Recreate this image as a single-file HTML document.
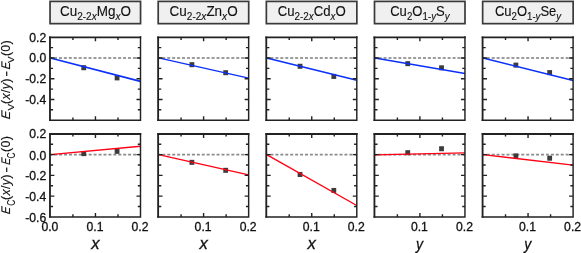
<!DOCTYPE html><html><head><meta charset="utf-8"><style>html,body{margin:0;padding:0;background:#fff}svg{display:block;will-change:transform;-webkit-font-smoothing:antialiased}</style></head><body><svg width="581" height="253" viewBox="0 0 581 253" font-family="Liberation Sans, sans-serif"><style>text{stroke:#111;stroke-width:0.3px}.yl text{stroke-width:0.15px}</style>
<rect width="581" height="253" fill="#fff"/>
<rect x="50.05" y="1.4" width="90.50" height="22.25" fill="#f0f0f0" stroke="#3a3a3a" stroke-width="1.7"/>
<text transform="translate(95.45,16.3) scale(0.95,1)" text-anchor="middle" font-size="14.2" fill="#111" style="stroke-width:0.12px"><tspan dy="0" font-size="14.2">Cu</tspan><tspan dy="3.6" font-size="10.6">2-2</tspan><tspan dy="0" font-size="10.6" font-style="italic">x</tspan><tspan dy="-3.6" font-size="14.2">Mg</tspan><tspan dy="3.6" font-size="10.6" font-style="italic">x</tspan><tspan dy="-3.6" font-size="14.2">O</tspan></text>
<line x1="50.40" y1="57.95" x2="140.50" y2="57.95" stroke="#7c7c7c" stroke-width="1.55" stroke-dasharray="3.0,1.93" stroke-dashoffset="1.2999999999999998"/>
<rect x="81.34" y="65.21" width="4.8" height="5.0" fill="#3c3c3c"/>
<rect x="114.67" y="75.38" width="4.8" height="5.0" fill="#3c3c3c"/>
<line x1="50.40" y1="57.95" x2="140.50" y2="81.40" stroke="#0b30f8" stroke-width="1.7"/>
<path d="M140.50 36.30V120.92M49.00 120.20H141.22" fill="none" stroke="#222" stroke-width="1.45"/>
<path d="M49.98 36.50V120.92" fill="none" stroke="#222" stroke-width="1.85"/>
<path d="M49.08 37.35H141.22" fill="none" stroke="#222" stroke-width="1.7"/>
<path d="M72.92 120.20v-2.7M72.92 37.20v2.7M95.45 120.20v-4.0M95.45 37.20v4.0M117.97 120.20v-2.7M117.97 37.20v2.7M50.40 47.58h2.7M140.50 47.58h-2.7M50.40 57.95h4.0M140.50 57.95h-4.0M50.40 68.33h2.7M140.50 68.33h-2.7M50.40 78.70h4.0M140.50 78.70h-4.0M50.40 89.08h2.7M140.50 89.08h-2.7M50.40 99.45h4.0M140.50 99.45h-4.0M50.40 109.82h2.7M140.50 109.82h-2.7" stroke="#222" stroke-width="1.4" fill="none"/>
<line x1="50.40" y1="154.65" x2="140.50" y2="154.65" stroke="#8c8c8c" stroke-width="1.8" stroke-dasharray="3.0,1.93" stroke-dashoffset="1.15"/>
<rect x="81.34" y="151.12" width="4.8" height="5.0" fill="#3c3c3c"/>
<rect x="114.67" y="148.84" width="4.8" height="5.0" fill="#3c3c3c"/>
<line x1="50.40" y1="154.65" x2="140.50" y2="146.25" stroke="#ff0014" stroke-width="1.35"/>
<path d="M140.50 133.00V217.62M49.00 216.90H141.22" fill="none" stroke="#222" stroke-width="1.45"/>
<path d="M49.98 133.20V217.62" fill="none" stroke="#222" stroke-width="1.85"/>
<path d="M49.08 134.05H141.22" fill="none" stroke="#222" stroke-width="1.95"/>
<path d="M72.92 216.90v-2.7M72.92 133.90v2.7M95.45 216.90v-4.0M95.45 133.90v4.0M117.97 216.90v-2.7M117.97 133.90v2.7M50.40 144.28h2.7M140.50 144.28h-2.7M50.40 154.65h4.0M140.50 154.65h-4.0M50.40 165.03h2.7M140.50 165.03h-2.7M50.40 175.40h4.0M140.50 175.40h-4.0M50.40 185.78h2.7M140.50 185.78h-2.7M50.40 196.15h4.0M140.50 196.15h-4.0M50.40 206.52h2.7M140.50 206.52h-2.7" stroke="#222" stroke-width="1.4" fill="none"/>
<text x="49.90" y="231.1" text-anchor="middle" font-size="12.2" fill="#111">0.0</text>
<text x="94.95" y="231.1" text-anchor="middle" font-size="12.2" fill="#111">0.1</text>
<text x="140.00" y="231.1" text-anchor="middle" font-size="12.2" fill="#111">0.2</text>
<text x="95.45" y="249.1" text-anchor="middle" font-size="16.7" font-style="italic" fill="#111">x</text>
<rect x="158.20" y="1.4" width="90.50" height="22.25" fill="#f0f0f0" stroke="#3a3a3a" stroke-width="1.7"/>
<text transform="translate(203.60,16.3) scale(0.95,1)" text-anchor="middle" font-size="14.2" fill="#111" style="stroke-width:0.12px"><tspan dy="0" font-size="14.2">Cu</tspan><tspan dy="3.6" font-size="10.6">2-2</tspan><tspan dy="0" font-size="10.6" font-style="italic">x</tspan><tspan dy="-3.6" font-size="14.2">Zn</tspan><tspan dy="3.6" font-size="10.6" font-style="italic">x</tspan><tspan dy="-3.6" font-size="14.2">O</tspan></text>
<line x1="158.55" y1="57.95" x2="248.65" y2="57.95" stroke="#7c7c7c" stroke-width="1.55" stroke-dasharray="3.0,1.93" stroke-dashoffset="1.2"/>
<rect x="189.49" y="62.20" width="4.8" height="5.0" fill="#3c3c3c"/>
<rect x="223.27" y="70.19" width="4.8" height="5.0" fill="#3c3c3c"/>
<line x1="158.55" y1="57.95" x2="248.65" y2="78.18" stroke="#0b30f8" stroke-width="1.25"/>
<path d="M248.65 36.30V120.92M157.15 120.20H249.37" fill="none" stroke="#222" stroke-width="1.45"/>
<path d="M158.13 36.50V120.92" fill="none" stroke="#222" stroke-width="1.85"/>
<path d="M157.23 37.35H249.37" fill="none" stroke="#222" stroke-width="1.7"/>
<path d="M181.08 120.20v-2.7M181.08 37.20v2.7M203.60 120.20v-4.0M203.60 37.20v4.0M226.12 120.20v-2.7M226.12 37.20v2.7M158.55 47.58h2.7M248.65 47.58h-2.7M158.55 57.95h4.0M248.65 57.95h-4.0M158.55 68.33h2.7M248.65 68.33h-2.7M158.55 78.70h4.0M248.65 78.70h-4.0M158.55 89.08h2.7M248.65 89.08h-2.7M158.55 99.45h4.0M248.65 99.45h-4.0M158.55 109.82h2.7M248.65 109.82h-2.7" stroke="#222" stroke-width="1.4" fill="none"/>
<line x1="158.55" y1="154.65" x2="248.65" y2="154.65" stroke="#8c8c8c" stroke-width="1.8" stroke-dasharray="3.0,1.93" stroke-dashoffset="1.15"/>
<rect x="189.49" y="159.84" width="4.8" height="5.0" fill="#3c3c3c"/>
<rect x="223.27" y="167.82" width="4.8" height="5.0" fill="#3c3c3c"/>
<line x1="158.55" y1="154.65" x2="248.65" y2="174.88" stroke="#ff0014" stroke-width="1.3"/>
<path d="M248.65 133.00V217.62M157.15 216.90H249.37" fill="none" stroke="#222" stroke-width="1.45"/>
<path d="M158.13 133.20V217.62" fill="none" stroke="#222" stroke-width="1.85"/>
<path d="M157.23 134.05H249.37" fill="none" stroke="#222" stroke-width="1.95"/>
<path d="M181.08 216.90v-2.7M181.08 133.90v2.7M203.60 216.90v-4.0M203.60 133.90v4.0M226.12 216.90v-2.7M226.12 133.90v2.7M158.55 144.28h2.7M248.65 144.28h-2.7M158.55 154.65h4.0M248.65 154.65h-4.0M158.55 165.03h2.7M248.65 165.03h-2.7M158.55 175.40h4.0M248.65 175.40h-4.0M158.55 185.78h2.7M248.65 185.78h-2.7M158.55 196.15h4.0M248.65 196.15h-4.0M158.55 206.52h2.7M248.65 206.52h-2.7" stroke="#222" stroke-width="1.4" fill="none"/>
<text x="203.10" y="231.1" text-anchor="middle" font-size="12.2" fill="#111">0.1</text>
<text x="248.15" y="231.1" text-anchor="middle" font-size="12.2" fill="#111">0.2</text>
<text x="203.60" y="249.1" text-anchor="middle" font-size="16.7" font-style="italic" fill="#111">x</text>
<rect x="266.35" y="1.4" width="90.50" height="22.25" fill="#f0f0f0" stroke="#3a3a3a" stroke-width="1.7"/>
<text transform="translate(311.75,16.3) scale(0.93,1)" text-anchor="middle" font-size="14.2" fill="#111" style="stroke-width:0.12px"><tspan dy="0" font-size="14.2">Cu</tspan><tspan dy="3.6" font-size="10.6">2-2</tspan><tspan dy="0" font-size="10.6" font-style="italic">x</tspan><tspan dy="-3.6" font-size="14.2">Cd</tspan><tspan dy="3.6" font-size="10.6" font-style="italic">x</tspan><tspan dy="-3.6" font-size="14.2">O</tspan></text>
<line x1="266.70" y1="57.95" x2="356.80" y2="57.95" stroke="#7c7c7c" stroke-width="1.55" stroke-dasharray="3.0,1.93" stroke-dashoffset="1.15"/>
<rect x="297.64" y="63.76" width="4.8" height="5.0" fill="#3c3c3c"/>
<rect x="331.42" y="73.92" width="4.8" height="5.0" fill="#3c3c3c"/>
<line x1="266.70" y1="57.95" x2="356.80" y2="80.15" stroke="#0b30f8" stroke-width="1.5"/>
<path d="M356.80 36.30V120.92M265.30 120.20H357.52" fill="none" stroke="#222" stroke-width="1.45"/>
<path d="M266.28 36.50V120.92" fill="none" stroke="#222" stroke-width="1.85"/>
<path d="M265.38 37.35H357.52" fill="none" stroke="#222" stroke-width="1.7"/>
<path d="M289.22 120.20v-2.7M289.22 37.20v2.7M311.75 120.20v-4.0M311.75 37.20v4.0M334.27 120.20v-2.7M334.27 37.20v2.7M266.70 47.58h2.7M356.80 47.58h-2.7M266.70 57.95h4.0M356.80 57.95h-4.0M266.70 68.33h2.7M356.80 68.33h-2.7M266.70 78.70h4.0M356.80 78.70h-4.0M266.70 89.08h2.7M356.80 89.08h-2.7M266.70 99.45h4.0M356.80 99.45h-4.0M266.70 109.82h2.7M356.80 109.82h-2.7" stroke="#222" stroke-width="1.4" fill="none"/>
<line x1="266.70" y1="154.65" x2="356.80" y2="154.65" stroke="#8c8c8c" stroke-width="1.8" stroke-dasharray="3.0,1.93" stroke-dashoffset="1.15"/>
<rect x="297.64" y="171.97" width="4.8" height="5.0" fill="#3c3c3c"/>
<rect x="331.42" y="187.95" width="4.8" height="5.0" fill="#3c3c3c"/>
<line x1="266.70" y1="154.65" x2="356.80" y2="205.49" stroke="#ff0014" stroke-width="1.4"/>
<path d="M356.80 133.00V217.62M265.30 216.90H357.52" fill="none" stroke="#222" stroke-width="1.45"/>
<path d="M266.28 133.20V217.62" fill="none" stroke="#222" stroke-width="1.85"/>
<path d="M265.38 134.05H357.52" fill="none" stroke="#222" stroke-width="1.95"/>
<path d="M289.22 216.90v-2.7M289.22 133.90v2.7M311.75 216.90v-4.0M311.75 133.90v4.0M334.27 216.90v-2.7M334.27 133.90v2.7M266.70 144.28h2.7M356.80 144.28h-2.7M266.70 154.65h4.0M356.80 154.65h-4.0M266.70 165.03h2.7M356.80 165.03h-2.7M266.70 175.40h4.0M356.80 175.40h-4.0M266.70 185.78h2.7M356.80 185.78h-2.7M266.70 196.15h4.0M356.80 196.15h-4.0M266.70 206.52h2.7M356.80 206.52h-2.7" stroke="#222" stroke-width="1.4" fill="none"/>
<text x="311.25" y="231.1" text-anchor="middle" font-size="12.2" fill="#111">0.1</text>
<text x="356.30" y="231.1" text-anchor="middle" font-size="12.2" fill="#111">0.2</text>
<text x="311.75" y="249.1" text-anchor="middle" font-size="16.7" font-style="italic" fill="#111">x</text>
<rect x="374.50" y="1.4" width="90.50" height="22.25" fill="#f0f0f0" stroke="#3a3a3a" stroke-width="1.7"/>
<text transform="translate(419.90,16.3) scale(0.92,1)" text-anchor="middle" font-size="14.2" fill="#111" style="stroke-width:0.12px"><tspan dy="0" font-size="14.2">Cu</tspan><tspan dy="3.6" font-size="10.6">2</tspan><tspan dy="-3.6" font-size="14.2">O</tspan><tspan dy="3.6" font-size="10.6">1-</tspan><tspan dy="0" font-size="10.6" font-style="italic">y</tspan><tspan dy="-3.6" font-size="14.2">S</tspan><tspan dy="3.6" font-size="10.6" font-style="italic">y</tspan></text>
<line x1="374.85" y1="57.95" x2="464.95" y2="57.95" stroke="#7c7c7c" stroke-width="1.55" stroke-dasharray="3.0,1.93" stroke-dashoffset="1.15"/>
<rect x="405.34" y="61.16" width="4.8" height="5.0" fill="#3c3c3c"/>
<rect x="439.12" y="65.31" width="4.8" height="5.0" fill="#3c3c3c"/>
<line x1="374.85" y1="57.95" x2="464.95" y2="73.51" stroke="#0b30f8" stroke-width="1.4"/>
<path d="M464.95 36.30V120.92M373.45 120.20H465.67" fill="none" stroke="#222" stroke-width="1.45"/>
<path d="M374.43 36.50V120.92" fill="none" stroke="#222" stroke-width="1.85"/>
<path d="M373.53 37.35H465.67" fill="none" stroke="#222" stroke-width="1.7"/>
<path d="M397.38 120.20v-2.7M397.38 37.20v2.7M419.90 120.20v-4.0M419.90 37.20v4.0M442.43 120.20v-2.7M442.43 37.20v2.7M374.85 47.58h2.7M464.95 47.58h-2.7M374.85 57.95h4.0M464.95 57.95h-4.0M374.85 68.33h2.7M464.95 68.33h-2.7M374.85 78.70h4.0M464.95 78.70h-4.0M374.85 89.08h2.7M464.95 89.08h-2.7M374.85 99.45h4.0M464.95 99.45h-4.0M374.85 109.82h2.7M464.95 109.82h-2.7" stroke="#222" stroke-width="1.4" fill="none"/>
<line x1="374.85" y1="154.65" x2="464.95" y2="154.65" stroke="#8c8c8c" stroke-width="1.8" stroke-dasharray="3.0,1.93" stroke-dashoffset="1.15"/>
<rect x="405.34" y="150.19" width="4.8" height="5.0" fill="#3c3c3c"/>
<rect x="439.12" y="146.24" width="4.8" height="5.0" fill="#3c3c3c"/>
<line x1="374.85" y1="154.96" x2="464.95" y2="152.89" stroke="#ff0014" stroke-width="1.25"/>
<path d="M464.95 133.00V217.62M373.45 216.90H465.67" fill="none" stroke="#222" stroke-width="1.45"/>
<path d="M374.43 133.20V217.62" fill="none" stroke="#222" stroke-width="1.85"/>
<path d="M373.53 134.05H465.67" fill="none" stroke="#222" stroke-width="1.95"/>
<path d="M397.38 216.90v-2.7M397.38 133.90v2.7M419.90 216.90v-4.0M419.90 133.90v4.0M442.43 216.90v-2.7M442.43 133.90v2.7M374.85 144.28h2.7M464.95 144.28h-2.7M374.85 154.65h4.0M464.95 154.65h-4.0M374.85 165.03h2.7M464.95 165.03h-2.7M374.85 175.40h4.0M464.95 175.40h-4.0M374.85 185.78h2.7M464.95 185.78h-2.7M374.85 196.15h4.0M464.95 196.15h-4.0M374.85 206.52h2.7M464.95 206.52h-2.7" stroke="#222" stroke-width="1.4" fill="none"/>
<text x="419.40" y="231.1" text-anchor="middle" font-size="12.2" fill="#111">0.1</text>
<text x="464.45" y="231.1" text-anchor="middle" font-size="12.2" fill="#111">0.2</text>
<text transform="translate(419.60,249.6) scale(0.84,1.04)" text-anchor="middle" font-size="16.7" font-style="italic" fill="#111">y</text>
<rect x="482.65" y="1.4" width="90.50" height="22.25" fill="#f0f0f0" stroke="#3a3a3a" stroke-width="1.7"/>
<text transform="translate(528.05,16.3) scale(0.915,1)" text-anchor="middle" font-size="14.2" fill="#111" style="stroke-width:0.12px"><tspan dy="0" font-size="14.2">Cu</tspan><tspan dy="3.6" font-size="10.6">2</tspan><tspan dy="-3.6" font-size="14.2">O</tspan><tspan dy="3.6" font-size="10.6">1-</tspan><tspan dy="0" font-size="10.6" font-style="italic">y</tspan><tspan dy="-3.6" font-size="14.2">Se</tspan><tspan dy="3.6" font-size="10.6" font-style="italic">y</tspan></text>
<line x1="483.00" y1="57.95" x2="573.10" y2="57.95" stroke="#7c7c7c" stroke-width="1.55" stroke-dasharray="3.0,1.93" stroke-dashoffset="1.15"/>
<rect x="513.49" y="62.62" width="4.8" height="5.0" fill="#3c3c3c"/>
<rect x="547.27" y="70.09" width="4.8" height="5.0" fill="#3c3c3c"/>
<line x1="483.00" y1="57.95" x2="573.10" y2="80.57" stroke="#0b30f8" stroke-width="1.5"/>
<path d="M573.10 36.30V120.92M481.60 120.20H573.82" fill="none" stroke="#222" stroke-width="1.45"/>
<path d="M482.58 36.50V120.92" fill="none" stroke="#222" stroke-width="1.85"/>
<path d="M481.68 37.35H573.82" fill="none" stroke="#222" stroke-width="1.7"/>
<path d="M505.52 120.20v-2.7M505.52 37.20v2.7M528.05 120.20v-4.0M528.05 37.20v4.0M550.58 120.20v-2.7M550.58 37.20v2.7M483.00 47.58h2.7M573.10 47.58h-2.7M483.00 57.95h4.0M573.10 57.95h-4.0M483.00 68.33h2.7M573.10 68.33h-2.7M483.00 78.70h4.0M573.10 78.70h-4.0M483.00 89.08h2.7M573.10 89.08h-2.7M483.00 99.45h4.0M573.10 99.45h-4.0M483.00 109.82h2.7M573.10 109.82h-2.7" stroke="#222" stroke-width="1.4" fill="none"/>
<line x1="483.00" y1="154.65" x2="573.10" y2="154.65" stroke="#8c8c8c" stroke-width="1.8" stroke-dasharray="3.0,1.93" stroke-dashoffset="1.15"/>
<rect x="513.49" y="153.40" width="4.8" height="5.0" fill="#3c3c3c"/>
<rect x="547.27" y="155.69" width="4.8" height="5.0" fill="#3c3c3c"/>
<line x1="483.00" y1="154.65" x2="573.10" y2="165.13" stroke="#ff0014" stroke-width="1.4"/>
<path d="M573.10 133.00V217.62M481.60 216.90H573.82" fill="none" stroke="#222" stroke-width="1.45"/>
<path d="M482.58 133.20V217.62" fill="none" stroke="#222" stroke-width="1.85"/>
<path d="M481.68 134.05H573.82" fill="none" stroke="#222" stroke-width="1.95"/>
<path d="M505.52 216.90v-2.7M505.52 133.90v2.7M528.05 216.90v-4.0M528.05 133.90v4.0M550.58 216.90v-2.7M550.58 133.90v2.7M483.00 144.28h2.7M573.10 144.28h-2.7M483.00 154.65h4.0M573.10 154.65h-4.0M483.00 165.03h2.7M573.10 165.03h-2.7M483.00 175.40h4.0M573.10 175.40h-4.0M483.00 185.78h2.7M573.10 185.78h-2.7M483.00 196.15h4.0M573.10 196.15h-4.0M483.00 206.52h2.7M573.10 206.52h-2.7" stroke="#222" stroke-width="1.4" fill="none"/>
<text x="527.55" y="231.1" text-anchor="middle" font-size="12.2" fill="#111">0.1</text>
<text x="572.60" y="231.1" text-anchor="middle" font-size="12.2" fill="#111">0.2</text>
<text transform="translate(527.75,249.6) scale(0.84,1.04)" text-anchor="middle" font-size="16.7" font-style="italic" fill="#111">y</text>
<text x="46.2" y="41.65" text-anchor="end" font-size="12.2" fill="#111">0.2</text>
<text x="46.2" y="62.40" text-anchor="end" font-size="12.2" fill="#111">0.0</text>
<text x="46.2" y="83.45" text-anchor="end" font-size="12.2" fill="#111">-0.2</text>
<text x="46.2" y="104.20" text-anchor="end" font-size="12.2" fill="#111">-0.4</text>
<text x="46.2" y="138.35" text-anchor="end" font-size="12.2" fill="#111">0.2</text>
<text x="46.2" y="159.60" text-anchor="end" font-size="12.2" fill="#111">0.0</text>
<text x="46.2" y="180.35" text-anchor="end" font-size="12.2" fill="#111">-0.2</text>
<text x="46.2" y="201.10" text-anchor="end" font-size="12.2" fill="#111">-0.4</text>
<text x="46.2" y="221.85" text-anchor="end" font-size="12.2" fill="#111">-0.6</text>
<g transform="translate(10.3,119.0) rotate(-90)" font-size="12.5" fill="#111" class="yl"><text transform="translate(-0.6,0) skewX(-7) scale(1.0,1)" font-style="italic">E</text><text transform="translate(8.5,3.4) scale(1.0,1)" font-size="9.9">V</text><text x="15.0" y="0" letter-spacing="0.3">(<tspan font-style="italic">x</tspan>/<tspan font-style="italic">y</tspan>)</text><line x1="43.1" x2="47.6" y1="-3.6" y2="-3.6" stroke="#111" stroke-width="1.2"/><text transform="translate(49.6,0) skewX(-7) scale(0.84,1)" font-style="italic">E</text><text transform="translate(56.0,3.4) scale(1.0,1)" font-size="9.9">V</text><text x="62.9" y="0" letter-spacing="0.3">(0)</text></g>
<g transform="translate(10.3,214.2) rotate(-90)" font-size="12.5" fill="#111" class="yl"><text transform="translate(0.0,0) skewX(-7) scale(0.86,1)" font-style="italic">E</text><text transform="translate(8.5,4.3) scale(0.74,1)" font-size="11.4">C</text><text x="14.2" y="0" letter-spacing="0.3">(<tspan font-style="italic">x</tspan>/<tspan font-style="italic">y</tspan>)</text><line x1="42.300000000000004" x2="46.800000000000004" y1="-3.6" y2="-3.6" stroke="#111" stroke-width="1.2"/><text transform="translate(49.220000000000006,0) skewX(-7) scale(0.8,1)" font-style="italic">E</text><text transform="translate(55.76,4.3) scale(0.74,1)" font-size="11.4">C</text><text x="62.3" y="0" letter-spacing="0.3">(0)</text></g>
</svg></body></html>
